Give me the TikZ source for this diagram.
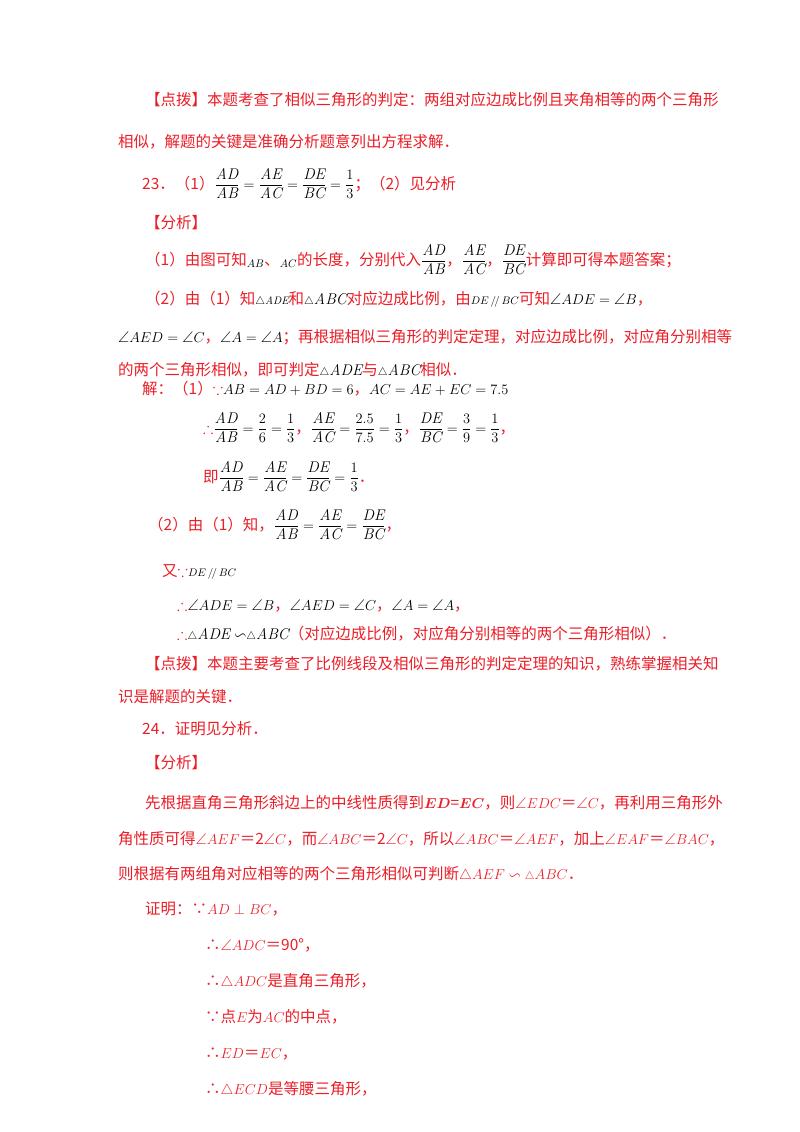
\documentclass[tikz,border=0pt]{standalone}
\usepackage{amssymb}
\usepackage{fontspec}
\newfontfamily\cjk{Noto Sans CJK SC}
\definecolor{rd}{RGB}{235,30,40}
\newcommand{\mk}[1]{\textcolor{black}{$#1$}}
\newcommand{\fr}[2]{\dfrac{\mathit{#1}}{\mathit{#2}}}
\usepackage{amsmath}
\begin{document}
\begin{tikzpicture}[x=1pt,y=1pt,t/.style={anchor=base west,inner sep=0pt,text=rd,font=\cjk\fontsize{15.5}{18}\selectfont}]
\useasboundingbox[fill=white] (0,0) rectangle (800,-1132);
\node[t] (l1) at (145,-105) {【点拨】本题考查了相似三角形的判定：两组对应边成比例且夹角相等的两个三角形};
\node[t] (l2) at (118,-147) {相似，解题的关键是准确分析题意列出方程求解．};
\node[t] (l3) at (142,-189) {23．（1）\mk{\fr{AD}{AB}=\fr{AE}{AC}=\fr{DE}{BC}=\dfrac{1}{3}}；（2）见分析};
\node[t] (l4) at (145,-228) {【分析】};
\node[t] (l5) at (145,-265) {（1）由图可知\mk{_{AB}}、\mk{_{AC}}的长度，分别代入\mk{\fr{AD}{AB}}，\mk{\fr{AE}{AC}}，\mk{\fr{DE}{BC}}计算即可得本题答案；};
\node[t] (l6) at (145,-304) {（2）由（1）知\mk{\scriptstyle\triangle \mathit{ADE}}和\mk{\scriptstyle\triangle}\mk{\mathit{ABC}}对应边成比例，由\mk{\scriptstyle DE\,/\!/\,BC}可知\mk{\angle ADE=\angle B}，};
\node[t] (l7) at (118,-342) {\mk{\angle AED=\angle C}，\mk{\angle A=\angle A}；再根据相似三角形的判定定理，对应边成比例，对应角分别相等};
\node[t] (l8) at (118,-375) {的两个三角形相似，即可判定\mk{\scriptstyle\triangle}\mk{\mathit{ADE}}与\mk{\scriptstyle\triangle}\mk{\mathit{ABC}}相似．};
\node[t] (l9) at (142,-394) {解：（1）$\because$\mk{AB=AD+BD=6}，\mk{AC=AE+EC=7.5}};
\node[t] (l10) at (203,-433) {$\therefore$\mk{\fr{AD}{AB}=\dfrac{2}{6}=\dfrac{1}{3}}，\mk{\fr{AE}{AC}=\dfrac{2.5}{7.5}=\dfrac{1}{3}}，\mk{\fr{DE}{BC}=\dfrac{3}{9}=\dfrac{1}{3}}，};
\node[t] (l11) at (203,-482) {即\mk{\fr{AD}{AB}=\fr{AE}{AC}=\fr{DE}{BC}=\dfrac{1}{3}}．};
\node[t] (l12) at (148,-530) {（2）由（1）知，\mk{\fr{AD}{AB}=\fr{AE}{AC}=\fr{DE}{BC}}，};
\node[t] (l13) at (162,-576) {又$\because$\mk{\scriptstyle DE\,/\!/\,BC}};
\node[t] (l14) at (177,-610) {$\therefore$\mk{\angle ADE=\angle B}，\mk{\angle AED=\angle C}，\mk{\angle A=\angle A}，};
\node[t] (l15) at (177,-639) {$\therefore$\mk{\scriptstyle\triangle}\mk{\mathit{ADE}\backsim}\mk{\scriptstyle\triangle}\mk{\mathit{ABC}}（对应边成比例，对应角分别相等的两个三角形相似）．};
\node[t] (l16) at (145,-669) {【点拨】本题主要考查了比例线段及相似三角形的判定定理的知识，熟练掌握相关知};
\node[t] (l17) at (118,-702) {识是解题的关键．};
\node[t] (l18) at (142,-734) {24．证明见分析．};
\node[t] (l19) at (145,-768) {【分析】};
\node[t] (l20) at (145,-808) {先根据直角三角形斜边上的中线性质得到$\boldsymbol{ED}$=$\boldsymbol{EC}$，则$\angle EDC$＝$\angle C$，再利用三角形外};
\node[t] (l21) at (118,-844) {角性质可得$\angle AEF$＝2$\angle C$，而$\angle ABC$＝2$\angle C$，所以$\angle ABC$＝$\angle AEF$，加上$\angle EAF$＝$\angle BAC$，};
\node[t] (l22) at (118,-879) {则根据有两组角对应相等的两个三角形相似可判断$\triangle AEF\backsim{\scriptstyle\triangle}ABC$．};
\node[t] (l23) at (145,-914) {证明：∵$AD\perp BC$，};
\node[t] (l24) at (205,-950) {∴$\angle ADC$＝90°，};
\node[t] (l25) at (205,-986) {∴$\triangle ADC$是直角三角形，};
\node[t] (l26) at (205,-1022) {∵点$E$为$AC$的中点，};
\node[t] (l27) at (205,-1058) {∴$ED$＝$EC$，};
\node[t] (l28) at (205,-1094) {∴$\triangle ECD$是等腰三角形，};
\end{tikzpicture}
\end{document}
